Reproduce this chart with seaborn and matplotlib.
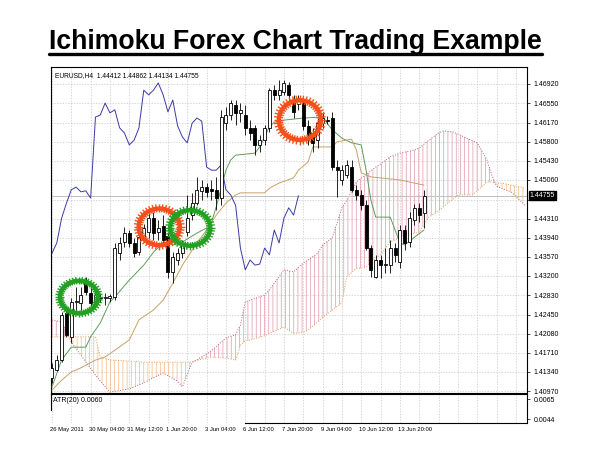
import numpy as np
import matplotlib
matplotlib.use('Agg')
import matplotlib.pyplot as plt
import matplotlib.transforms as mtransforms
from matplotlib.patches import Ellipse
from matplotlib.lines import Line2D
from matplotlib.collections import LineCollection
import seaborn as sns

sns.set_style('white')
plt.rcParams['font.family'] = ['Liberation Sans', 'DejaVu Sans']
plt.rcParams['hatch.linewidth'] = 0.5
plt.rcParams['text.color'] = 'black'
plt.rcParams['ytick.color'] = 'black'
plt.rcParams['xtick.color'] = 'black'

# EURUSD H4 candles
opens = [1.4122, 1.4138, 1.4157, 1.4248, 1.4202, 1.4270, 1.4268, 1.4312, 1.4287, 1.4270,
         1.4279, 1.4277, 1.4277, 1.4279, 1.4364, 1.4386, 1.4403, 1.4384, 1.4366, 1.4394,
         1.4405, 1.4432, 1.4405, 1.4417, 1.4397, 1.4328, 1.4351, 1.4364, 1.4405, 1.4438,
         1.4461, 1.4485, 1.4492, 1.4488, 1.4487, 1.4471, 1.4616, 1.4632, 1.4651, 1.4636,
         1.4632, 1.4607, 1.4607, 1.4574, 1.4583, 1.4607, 1.4680, 1.4671, 1.4676, 1.4690,
         1.4655, 1.4653, 1.4655, 1.4611, 1.4597, 1.4583, 1.4616, 1.4622, 1.4626, 1.4531,
         1.4506, 1.4516, 1.4531, 1.4487, 1.4477, 1.4457, 1.4374, 1.4318, 1.4351, 1.4341,
         1.4341, 1.4374, 1.4347, 1.4409, 1.4386, 1.4428, 1.4452, 1.44412]
highs = [1.4151, 1.4167, 1.4250, 1.4254, 1.4277, 1.4299, 1.4299, 1.4318, 1.4297, 1.4293,
         1.4287, 1.4287, 1.4285, 1.4384, 1.4395, 1.4415, 1.4409, 1.4394, 1.4403, 1.4421,
         1.4444, 1.4444, 1.4428, 1.4438, 1.4405, 1.4366, 1.4374, 1.4390, 1.4477, 1.4481,
         1.4512, 1.4506, 1.4500, 1.4506, 1.4512, 1.4642, 1.4647, 1.4661, 1.4661, 1.4655,
         1.4651, 1.4622, 1.4613, 1.4593, 1.4613, 1.4684, 1.4690, 1.4700, 1.4700, 1.4696,
         1.4671, 1.4671, 1.4665, 1.4622, 1.4607, 1.4626, 1.4638, 1.4630, 1.4638, 1.4545,
         1.4535, 1.4545, 1.4545, 1.4496, 1.4487, 1.4467, 1.4380, 1.4361, 1.4361, 1.4374,
         1.4390, 1.4384, 1.4419, 1.4419, 1.4444, 1.4459, 1.4461, 1.44862]
lows = [1.4112, 1.4136, 1.4153, 1.4202, 1.4190, 1.4248, 1.4250, 1.4283, 1.4254, 1.4264,
        1.4270, 1.4264, 1.4270, 1.4273, 1.4351, 1.4376, 1.4376, 1.4357, 1.4361, 1.4386,
        1.4394, 1.4390, 1.4390, 1.4380, 1.4316, 1.4306, 1.4341, 1.4355, 1.4397, 1.4428,
        1.4457, 1.4467, 1.4473, 1.4467, 1.4448, 1.4457, 1.4603, 1.4622, 1.4613, 1.4618,
        1.4593, 1.4583, 1.4554, 1.4560, 1.4574, 1.4599, 1.4661, 1.4661, 1.4671, 1.4651,
        1.4626, 1.4642, 1.4603, 1.4574, 1.4560, 1.4568, 1.4607, 1.4614, 1.4525, 1.4473,
        1.4496, 1.4510, 1.4483, 1.4467, 1.4448, 1.4370, 1.4318, 1.4316, 1.4316, 1.4326,
        1.4326, 1.4347, 1.4335, 1.4370, 1.4376, 1.4419, 1.4425, 1.44134]
closes = [1.4142, 1.4157, 1.4244, 1.4206, 1.4270, 1.4272, 1.4283, 1.4289, 1.4268, 1.4283,
          1.4277, 1.4279, 1.4281, 1.4374, 1.4384, 1.4403, 1.4384, 1.4364, 1.4395, 1.4413,
          1.4432, 1.4403, 1.4413, 1.4390, 1.4328, 1.4357, 1.4364, 1.4384, 1.4432, 1.4461,
          1.4487, 1.4492, 1.4483, 1.4485, 1.4471, 1.4628, 1.4632, 1.4655, 1.4636, 1.4642,
          1.4607, 1.4597, 1.4574, 1.4583, 1.4607, 1.4680, 1.4671, 1.4680, 1.4694, 1.4671,
          1.4638, 1.4661, 1.4611, 1.4589, 1.4578, 1.4616, 1.4626, 1.4620, 1.4531, 1.4525,
          1.4525, 1.4535, 1.4487, 1.4477, 1.4457, 1.4374, 1.4332, 1.4351, 1.4341, 1.4343,
          1.4374, 1.4361, 1.4409, 1.4384, 1.4432, 1.4452, 1.4438, 1.44755]

# Tenkan-sen (green) and Kijun-sen (tan) turning points: bar index / price
tenkan_idx = [0, 2, 4, 7, 8, 10, 12, 13, 16, 19, 21, 23, 26, 27, 30, 32, 33, 34, 36, 37,
              38, 42, 43, 45, 46, 48, 52, 56, 58, 60, 62, 64, 65, 66, 67, 70, 71, 72, 73, 75, 77]
tenkan = [1.4105, 1.4157, 1.4182, 1.4182, 1.4202, 1.4229, 1.4270, 1.4279, 1.4312, 1.4341,
          1.4366, 1.4384, 1.4380, 1.4386, 1.4403, 1.4413, 1.4423, 1.4454, 1.4525, 1.4545,
          1.4554, 1.4558, 1.4570, 1.4609, 1.4618, 1.4622, 1.4626, 1.4628, 1.4603, 1.4587,
          1.4578, 1.4574, 1.4525, 1.4467, 1.4434, 1.4434, 1.4409, 1.4384, 1.4380, 1.4395, 1.4409]
kijun_idx = [0, 2, 4, 6, 9, 11, 13, 16, 18, 21, 23, 25, 27, 30, 32, 34, 36, 38, 39, 44,
             45, 47, 50, 51, 53, 54, 58, 59, 62, 63, 64, 66, 68, 72, 75, 77]
kijun = [1.4099, 1.4118, 1.4134, 1.4142, 1.4157, 1.4163, 1.4176, 1.4196, 1.4235, 1.4254,
         1.4273, 1.4306, 1.4341, 1.4384, 1.4409, 1.4438, 1.4461, 1.4477, 1.4481, 1.4481,
         1.4490, 1.4500, 1.4510, 1.4525, 1.4541, 1.4570, 1.4570, 1.4580, 1.4585, 1.4564,
         1.4520, 1.4512, 1.4510, 1.4506, 1.4500, 1.4496]

# Senkou span A / B (cloud), shared bar indices
cloud_idx = [0, 2, 4, 9, 10, 12, 16, 19, 23, 26, 27, 29, 31, 33, 36, 38, 39, 40, 41, 44,
             45, 48, 50, 52, 53, 55, 56, 58, 60, 61, 63, 64, 65, 67, 68, 70, 71, 72, 75, 76,
             78, 80, 81, 83, 84, 87, 88, 90, 91, 92, 93, 95, 98]
span_a = [1.4202, 1.4202, 1.4202, 1.4202, 1.4163, 1.4157, 1.4155, 1.4153, 1.4153, 1.4153,
          1.4153, 1.4153, 1.4159, 1.4163, 1.4161, 1.4157, 1.4186, 1.4194, 1.4196, 1.4204,
          1.4209, 1.4221, 1.4209, 1.4211, 1.4215, 1.4231, 1.4239, 1.4254, 1.4268, 1.4318,
          1.4335, 1.4335, 1.4337, 1.4355, 1.4361, 1.4386, 1.4390, 1.4394, 1.4403, 1.4405,
          1.4434, 1.4446, 1.4454, 1.4469, 1.4477, 1.4477, 1.4485, 1.4502, 1.4502, 1.4500,
          1.4500, 1.4496, 1.4490]
span_b = [1.4235, 1.4231, 1.4192, 1.4128, 1.4116, 1.4095, 1.4101, 1.4113, 1.4132, 1.4116,
          1.4105, 1.4153, 1.4163, 1.4175, 1.4200, 1.4206, 1.4225, 1.4270, 1.4273, 1.4283,
          1.4293, 1.4332, 1.4328, 1.4345, 1.4351, 1.4364, 1.4380, 1.4394, 1.4452, 1.4467,
          1.4502, 1.4510, 1.4516, 1.4531, 1.4537, 1.4551, 1.4554, 1.4558, 1.4564, 1.4568,
          1.4583, 1.4597, 1.4601, 1.4599, 1.4595, 1.4582, 1.4578, 1.4545, 1.4516, 1.4494,
          1.4490, 1.4483, 1.4456]
chikou_shift = 26

price_ticks = [1.46920, 1.46550, 1.46170, 1.45800, 1.45430, 1.45060, 1.44680, 1.44310,
               1.43940, 1.43570, 1.43200, 1.42830, 1.42450, 1.42080, 1.41710, 1.41340, 1.40970]
date_labels = ['26 May 2011', '30 May 04:00', '31 May 12:00', '1 Jun 20:00', '3 Jun 04:00',
               '6 Jun 12:00', '7 Jun 20:00', '9 Jun 04:00', '10 Jun 12:00', '13 Jun 20:00']
atr_ticks = [0.0065, 0.0044]
atr_value = 0.0060

# highlighted spots: (bar, price, width in bars, height in price, colour)
circles = [(5.6, 1.4279, 7.9, 0.0063, '#22a022'),
           (22.2, 1.4415, 8.5, 0.0071, '#f4501c'),
           (28.6, 1.4413, 8.3, 0.0069, '#22a022'),
           (51.3, 1.4622, 8.7, 0.0077, '#f4501c')]

o = np.array(opens); h = np.array(highs); l = np.array(lows); c = np.array(closes)
xs = np.arange(len(c))

fig = plt.figure(figsize=(6, 4.5), dpi=100)
ax = fig.add_axes([0.085, 0.1267, 0.7933, 0.7244])
ax2 = fig.add_axes([0.085, 0.06, 0.7933, 0.0644], sharex=ax)

ax.set_xlim(-0.2, 98.3)
ax.set_ylim(1.40932, 1.47249)

grid_kw = dict(color='#c8c8c8', lw=0.5, ls=(0, (2, 2)))
ax.grid(True, **grid_kw)
ax.set_axisbelow(True)

# cloud
ca = np.array(span_a); cb = np.array(span_b)
ax.fill_between(cloud_idx, ca, cb, where=ca >= cb, interpolate=True, facecolor='none',
                edgecolor='#f4b97c', hatch='||||', lw=0, zorder=1)
ax.fill_between(cloud_idx, ca, cb, where=ca < cb, interpolate=True, facecolor='none',
                edgecolor='#df98aa', hatch='||||', lw=0, zorder=1)
sns.lineplot(x=cloud_idx, y=span_a, ax=ax, color='#eb9a55', lw=0.7, ls=':', zorder=2)
sns.lineplot(x=cloud_idx, y=span_b, ax=ax, color='#c0607a', lw=0.7, ls=':', zorder=2)

# lines
sns.lineplot(x=tenkan_idx, y=tenkan, ax=ax, color='#5e9c5e', lw=0.7, zorder=3)
sns.lineplot(x=kijun_idx, y=kijun, ax=ax, color='#c8a266', lw=0.7, zorder=3)
sns.lineplot(x=xs[chikou_shift:] - chikou_shift, y=c[chikou_shift:], ax=ax,
             color='#3a3aa8', lw=0.7, zorder=3)

# current price line
ax.axhline(c[-1], color='#c0c0c0', lw=0.7, zorder=2)

# candles
ax.vlines(xs, l, h, color='black', lw=0.6, zorder=4)
body_lo = np.minimum(o, c)
body_h = np.maximum(np.abs(c - o), 0.00004)
ax.bar(xs, body_h, bottom=body_lo, width=0.62,
       color=np.where(c >= o, 'white', 'black'), edgecolor='black', lw=0.6, zorder=5)

# hand drawn circles
for cx, cy, w, hh, col in circles:
    ax.add_patch(Ellipse((cx, cy), w, hh, fill=False, ec=col, lw=3.2, zorder=6))
    ang = np.linspace(0, 2 * np.pi, 44, endpoint=False)
    segs = [[(cx + 0.40 * w * np.cos(t), cy + 0.40 * hh * np.sin(t)),
             (cx + 0.62 * w * np.cos(t), cy + 0.62 * hh * np.sin(t))] for t in ang]
    ax.add_collection(LineCollection(segs, colors=col, lw=1.0, zorder=6))

# axes styling
for s in ax.spines.values():
    s.set_color('black'); s.set_linewidth(0.8)
ax.yaxis.tick_right()
ax.set_yticks(price_ticks)
ax.set_yticklabels(['' if abs(t - 1.44680) < 1e-6 else f'{t:.5f}' for t in price_ticks])
ax.tick_params(axis='y', right=True, left=False, length=2, width=0.5, pad=3, labelsize=5)
ax.tick_params(axis='x', bottom=False, labelbottom=False)
ax.set_xlabel(''); ax.set_ylabel('')

ax.text(0.008, 0.985, 'EURUSD,H4  %.5f %.5f %.5f %.5f' % (o[-1], h[-1], l[-1], c[-1]),
        transform=ax.transAxes, fontsize=4.8, va='top', ha='left')

trans = mtransforms.blended_transform_factory(ax.transAxes, ax.transData)
ax.text(1.006, c[-1], f'{c[-1]:.5f}', transform=trans, fontsize=5, color='white',
        va='center', ha='left', zorder=10,
        bbox=dict(boxstyle='square,pad=0.15', fc='black', ec='black'))

# ATR panel
ax2.set_ylim(0.00398, 0.00703)
ax2.set_yticks(atr_ticks)
ax2.set_yticklabels([f'{t:.4f}' for t in atr_ticks])
ax2.yaxis.tick_right()
ax2.tick_params(axis='y', right=True, left=False, length=2, width=0.5, pad=3, labelsize=5)
ax2.grid(True, axis='x', **grid_kw)
ax2.set_axisbelow(True)
for s in ax2.spines.values():
    s.set_color('black'); s.set_linewidth(0.8)
ax2.spines['left'].set_bounds(0.0054, 0.00703)
ax2.spines['bottom'].set_bounds(40, 98.3)
ax2.text(0.005, 0.88, f'ATR(20) {atr_value:.4f}', transform=ax2.transAxes,
         fontsize=5, va='top', ha='left')

tick_pos = list(range(0, 97, 4))
tick_lab = [date_labels[p // 8] if p % 8 == 0 and p // 8 < len(date_labels) else ''
            for p in tick_pos]
ax2.set_xticks(tick_pos)
ax2.set_xticklabels(tick_lab, fontsize=4.2, ha='left')
ax2.tick_params(axis='x', length=0, pad=3)
for lab in ax2.get_xticklabels():
    lab.set_transform(lab.get_transform() + mtransforms.ScaledTranslation(-2 / 100, 0, fig.dpi_scale_trans))
ax.set_xlim(-0.2, 98.3)

# title with underline
title = fig.text(0.493, 0.892, 'Ichimoku Forex Chart Trading Example', ha='center',
                 va='baseline', fontsize=19.2, fontweight='bold', family='Liberation Sans',
                 color='black')
fig.canvas.draw()
bb = title.get_window_extent().transformed(fig.transFigure.inverted())
fig.add_artist(Line2D([bb.x0, bb.x1], [bb.y0 + 0.001, bb.y0 + 0.001], transform=fig.transFigure,
                      color='black', lw=2.4))

fig.savefig('out.png', dpi=100, facecolor='white')
